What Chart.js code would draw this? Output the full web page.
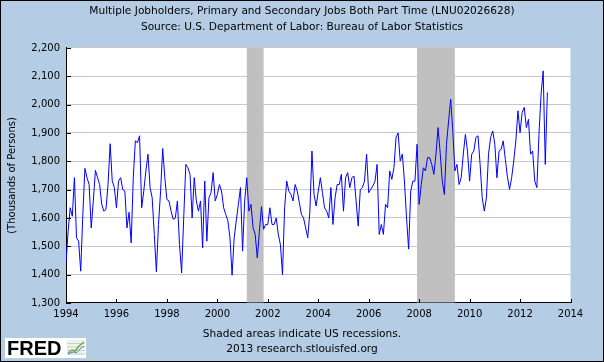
<!DOCTYPE html>
<html>
<head>
<meta charset="utf-8">
<style>
  html, body { margin: 0; padding: 0; background: #fff; }
</style>
<script src="https://cdn.jsdelivr.net/npm/chart.js@4.4.1/dist/chart.umd.min.js"></script>
</head>
<body>
<canvas id="myChart" width="604" height="362"></canvas>
<script>
// Monthly series, Jan 1994 .. Feb 2013 (thousands of persons)
const startYear = 1994;
const values = [
  1440, 1553, 1636, 1606, 1742, 1530, 1518, 1412, 1612, 1775, 1742, 1718, // 1994
  1565, 1660, 1768, 1742, 1718, 1648, 1624, 1630, 1718, 1862, 1730, 1707, // 1995
  1636, 1730, 1742, 1700, 1695, 1565, 1620, 1512, 1742, 1872, 1866, 1890, // 1996
  1636, 1695, 1766, 1825, 1707, 1671, 1542, 1410, 1577, 1695, 1845, 1742, // 1997
  1665, 1660, 1624, 1595, 1600, 1660, 1506, 1406, 1600, 1789, 1777, 1754, // 1998
  1600, 1742, 1660, 1624, 1660, 1494, 1730, 1518, 1671, 1690, 1760, 1660, // 1999
  1683, 1718, 1695, 1636, 1612, 1590, 1530, 1398, 1530, 1590, 1648, 1707, // 2000
  1483, 1660, 1742, 1624, 1648, 1565, 1542, 1459, 1553, 1640, 1560, 1577, // 2001
  1577, 1636, 1577, 1577, 1600, 1542, 1506, 1400, 1636, 1730, 1695, 1683, // 2002
  1660, 1718, 1695, 1654, 1612, 1600, 1565, 1530, 1620, 1836, 1683, 1642, // 2003
  1695, 1742, 1689, 1636, 1624, 1600, 1707, 1577, 1671, 1718, 1718, 1754, // 2004
  1624, 1742, 1760, 1707, 1742, 1748, 1660, 1571, 1700, 1707, 1730, 1825, // 2005
  1689, 1701, 1713, 1730, 1789, 1542, 1577, 1542, 1648, 1636, 1766, 1736, // 2006
  1777, 1884, 1900, 1801, 1825, 1730, 1600, 1490, 1695, 1730, 1730, 1860, // 2007
  1648, 1718, 1777, 1766, 1813, 1813, 1789, 1754, 1825, 1919, 1830, 1730, // 2008
  1683, 1860, 1942, 2019, 1907, 1766, 1789, 1718, 1742, 1825, 1895, 1836, // 2009
  1730, 1825, 1836, 1884, 1890, 1789, 1671, 1624, 1671, 1825, 1884, 1907, // 2010
  1860, 1742, 1836, 1842, 1872, 1807, 1745, 1701, 1742, 1801, 1872, 1978, // 2011
  1901, 1972, 1990, 1919, 1948, 1825, 1836, 1730, 1707, 1895, 2037, 2119, // 2012
  1789, 2043                                                              // 2013
];

// NBER recessions (decimal years)
const recessionStarts = [2001 + 2 / 12, 2007 + 11 / 12];
const recessionEnds = [2001 + 10 / 12, 2009 + 5 / 12];

const titleLines = [
  'Multiple Jobholders, Primary and Secondary Jobs Both Part Time (LNU02026628)',
  'Source: U.S. Department of Labor: Bureau of Labor Statistics'
];
const footerLines = [
  'Shaded areas indicate US recessions.',
  '2013 research.stlouisfed.org'
];

const points = values.map((v, i) => ({ x: startYear + i / 12, y: v }));

const textFont = { family: 'DejaVu Sans', size: 10.6, weight: 'normal', lineHeight: 1.45 };
const tickFont = { family: 'DejaVu Sans', size: 10 };
const bgBlue = 'rgb(180, 205, 229)';

// page background + white plot
const backdrop = {
  id: 'backdrop',
  beforeDraw(chart) {
    const { ctx, chartArea: a } = chart;
    ctx.save();
    ctx.fillStyle = bgBlue;
    ctx.fillRect(0, 0, chart.width, chart.height);
    ctx.fillStyle = '#fff';
    ctx.fillRect(a.left, a.top, a.right - a.left, a.bottom - a.top);
    ctx.restore();
  }
};

// grey recession bars
const recessions = {
  id: 'recessions',
  beforeDatasetsDraw(chart) {
    const { ctx, chartArea: a, scales: { x } } = chart;
    ctx.save();
    ctx.fillStyle = 'rgb(192, 192, 192)';
    recessionStarts.forEach((s, i) => {
      const x0 = x.getPixelForValue(s);
      const x1 = x.getPixelForValue(recessionEnds[i]);
      ctx.fillRect(x0, a.top, x1 - x0, a.bottom - a.top - 0.5);
    });
    ctx.restore();
  }
};

// small inward tick marks
const innerTicks = {
  id: 'innerTicks',
  afterDatasetsDraw(chart) {
    const { ctx, chartArea: a, scales: { x, y } } = chart;
    ctx.save();
    ctx.strokeStyle = '#000';
    ctx.lineWidth = 1;
    ctx.beginPath();
    x.ticks.forEach(t => {
      const px = Math.round(x.getPixelForValue(t.value)) + 0.5;
      ctx.moveTo(px, a.bottom);
      ctx.lineTo(px, a.bottom - 4);
    });
    y.ticks.forEach(t => {
      const py = Math.round(y.getPixelForValue(t.value)) + 0.5;
      ctx.moveTo(a.left, py);
      ctx.lineTo(a.left + 5, py);
    });
    ctx.stroke();
    ctx.restore();
  }
};

// FRED logo and frame
const logo = {
  id: 'logo',
  afterDraw(chart) {
    const { ctx } = chart;
    ctx.save();
    ctx.fillStyle = '#fff';
    ctx.fillRect(5, 338, 81, 20);
    ctx.fillStyle = '#000';
    ctx.font = 'bold 20px "Liberation Sans"';
    ctx.textBaseline = 'alphabetic';
    ctx.textAlign = 'left';
    ctx.fillText('FRED', 7, 355);
    // tiny chart icon
    ctx.fillStyle = '#eef2ea';
    ctx.fillRect(67, 340, 18, 15);
    ctx.strokeStyle = '#c9d2c4';
    ctx.lineWidth = 1;
    ctx.beginPath();
    for (let i = 0; i < 4; i++) {
      ctx.moveTo(67, 343.5 + i * 3.5);
      ctx.lineTo(85, 343.5 + i * 3.5);
    }
    ctx.stroke();
    ctx.strokeStyle = '#6aa84f';
    ctx.lineWidth = 1.5;
    ctx.beginPath();
    ctx.moveTo(68, 353); ctx.lineTo(72, 350); ctx.lineTo(75, 351);
    ctx.lineTo(79, 346); ctx.lineTo(84, 342);
    ctx.stroke();
    ctx.strokeStyle = '#5b7fbf';
    ctx.lineWidth = 1;
    ctx.beginPath();
    ctx.moveTo(68, 354); ctx.lineTo(73, 352); ctx.lineTo(77, 352.5);
    ctx.lineTo(81, 348); ctx.lineTo(84, 346);
    ctx.stroke();
    // outer frame
    ctx.strokeStyle = '#000';
    ctx.lineWidth = 1;
    ctx.strokeRect(0.5, 0.5, chart.width - 1, chart.height - 1);
    ctx.restore();
  }
};

const ctx = document.getElementById('myChart');

new Chart(ctx, {
  type: 'line',
  data: {
    datasets: [{
      data: points,
      borderColor: '#0000ff',
      borderWidth: 1,
      pointRadius: 0,
      tension: 0,
      fill: false
    }]
  },
  options: {
    responsive: false,
    animation: false,
    layout: { padding: 0 },
    plugins: {
      legend: { display: false },
      tooltip: { enabled: false },
      title: {
        display: true,
        text: titleLines,
        color: '#000',
        font: textFont,
        padding: { top: 4, bottom: 13.2 }
      },
      subtitle: {
        display: true,
        position: 'bottom',
        text: footerLines,
        color: '#000',
        font: textFont,
        padding: { top: 5.3, bottom: 5 }
      }
    },
    scales: {
      x: {
        type: 'linear',
        min: 1994,
        max: 2014,
        ticks: {
          stepSize: 2,
          autoSkip: false,
          maxRotation: 0,
          color: '#000',
          padding: 5,
          font: tickFont,
          callback: v => String(v)
        },
        grid: { display: false, drawTicks: false },
        border: { display: true, color: '#000', width: 1 },
        afterFit: s => { s.height = 18; }
      },
      y: {
        min: 1300,
        max: 2200,
        ticks: {
          stepSize: 100,
          color: '#000',
          padding: 6,
          font: tickFont,
          callback: v => v.toLocaleString('en-US')
        },
        grid: { color: 'rgb(200, 200, 200)', drawTicks: false },
        border: { display: true, color: '#000', width: 1 },
        title: {
          display: true,
          text: '(Thousands of Persons)',
          color: '#000',
          font: { family: 'DejaVu Sans', size: 10, lineHeight: 1.2 },
          padding: { top: 6, bottom: 0 }
        },
        afterFit: s => { s.width = 66; }
      },
      // empty right-hand gutter so titles stay centred on the page
      gutter: {
        axis: 'y',
        position: 'right',
        display: false,
        afterFit: s => { s.width = 33.5; }
      }
    }
  },
  plugins: [backdrop, recessions, innerTicks, logo]
});
</script>
</body>
</html>
